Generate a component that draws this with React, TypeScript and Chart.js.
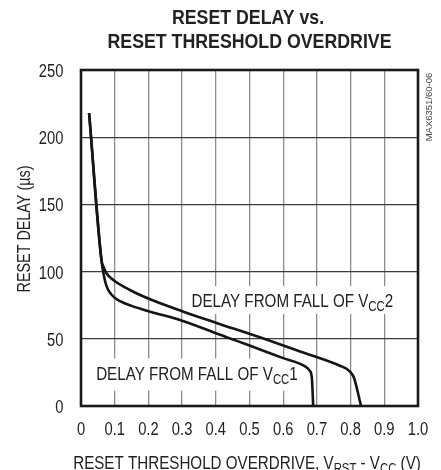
import React, { useEffect, useRef } from "react";
import { Chart, registerables } from "chart.js";

Chart.register(...registerables);

// ---- data ----
const vcc1X = [0.024, 0.061, 0.068, 0.076, 0.09, 0.116, 0.15, 0.205, 0.3, 0.43, 0.5, 0.6, 0.665, 0.678, 0.685, 0.689];
const vcc1Y = [218, 108, 97, 89, 83, 78, 74.5, 70.2, 63.5, 51.4, 45, 35.6, 29.5, 26.5, 21, 0];
const vcc2X = [0.024, 0.061, 0.066, 0.075, 0.096, 0.145, 0.205, 0.304, 0.4, 0.531, 0.65, 0.77, 0.79, 0.8, 0.81, 0.831];
const vcc2Y = [218, 108, 104, 99, 93.7, 86.3, 79.4, 70.2, 62, 51.1, 40.6, 29.8, 27.3, 25, 21, 0];

const xTickLabels = ["0", "0.1", "0.2", "0.3", "0.4", "0.5", "0.6", "0.7", "0.8", "0.9", "1.0"];
const yTickLabels = ["0", "50", "100", "150", "200", "250"];

const titleLines = ["RESET DELAY vs.", "RESET THRESHOLD OVERDRIVE"];
const yAxisTitle = "RESET DELAY (µs)";
const xAxisTitle = [
  { t: "RESET THRESHOLD OVERDRIVE, V" },
  { t: "RST", sub: true },
  { t: " - V" },
  { t: "CC", sub: true },
  { t: " (V)" },
];
const label1 = [{ t: "DELAY FROM FALL OF V" }, { t: "CC", sub: true }, { t: "1" }];
const label2 = [{ t: "DELAY FROM FALL OF V" }, { t: "CC", sub: true }, { t: "2" }];
const noteText = "MAX6351/60-06";

const FONT = "'Liberation Sans', Arial, sans-serif";
const NARROW = 0.82;
const TEXT = "#222";

type Seg = { t: string; sub?: boolean };

function fontStr(size: number, bold: boolean) {
  return `${bold ? "bold " : ""}${size}px ${FONT}`;
}

function richWidth(ctx: CanvasRenderingContext2D, segs: Seg[], size: number, bold: boolean) {
  let w = 0;
  for (const s of segs) {
    ctx.font = fontStr(s.sub ? size * 0.75 : size, bold);
    w += ctx.measureText(s.t).width;
  }
  return w;
}

// draws rich text; x is the anchor in unscaled coordinates, baseline y
function drawRich(
  ctx: CanvasRenderingContext2D,
  segs: Seg[],
  x: number,
  y: number,
  size: number,
  bold: boolean,
  sx: number,
  align: "left" | "center" | "right"
) {
  ctx.save();
  ctx.textBaseline = "alphabetic";
  ctx.textAlign = "left";
  ctx.fillStyle = TEXT;
  const w = richWidth(ctx, segs, size, bold) * sx;
  let start = x;
  if (align === "center") start = x - w / 2;
  if (align === "right") start = x - w;
  ctx.translate(start, y);
  ctx.scale(sx, 1);
  let cx = 0;
  for (const s of segs) {
    const sz = s.sub ? size * 0.75 : size;
    ctx.font = fontStr(sz, bold);
    ctx.fillText(s.t, cx, s.sub ? size * 0.22 : 0);
    cx += ctx.measureText(s.t).width;
  }
  ctx.restore();
}

const decorPlugin = {
  id: "decor",
  beforeDatasetsDraw(chart: any) {
    const { ctx, scales } = chart;
    const xs = scales.x;
    const ys = scales.y;
    ctx.save();
    ctx.fillStyle = "#fff";
    // white boxes behind the in-plot labels
    ctx.fillRect(xs.getPixelForValue(0.033), ys.getPixelForValue(35.3), 212, 32);
    ctx.fillRect(xs.getPixelForValue(0.318), ys.getPixelForValue(89.3), 213, 28);
    ctx.restore();
  },
  afterDatasetsDraw(chart: any) {
    const { ctx, chartArea, scales } = chart;
    const xs = scales.x;
    const ys = scales.y;
    // frame
    ctx.save();
    ctx.strokeStyle = "#1a1a1a";
    ctx.lineWidth = 2.6;
    ctx.strokeRect(chartArea.left, chartArea.top, chartArea.right - chartArea.left, chartArea.bottom - chartArea.top);
    ctx.restore();

    // in-plot labels
    drawRich(ctx, label1, xs.getPixelForValue(0.045), ys.getPixelForValue(19.5), 18.5, false, NARROW, "left");
    drawRich(ctx, label2, xs.getPixelForValue(0.328), ys.getPixelForValue(73.5), 18.5, false, NARROW, "left");

    // title
    const cxTitle = (chartArea.left + chartArea.right) / 2;
    drawRich(ctx, [{ t: titleLines[0] }], cxTitle - 1.5, 24, 21, true, 0.845, "center");
    drawRich(ctx, [{ t: titleLines[1] }], cxTitle, 48, 21, true, 0.845, "center");

    // x ticks
    for (const lab of xTickLabels) {
      const px = xs.getPixelForValue(parseFloat(lab));
      drawRich(ctx, [{ t: lab }], px, 435, 18, false, NARROW, "center");
    }
    // y ticks
    for (const lab of yTickLabels) {
      const py = ys.getPixelForValue(parseFloat(lab));
      drawRich(ctx, [{ t: lab }], 63.5, py + 7, 18, false, NARROW, "right");
    }

    // x axis title
    drawRich(ctx, xAxisTitle, 247, 468.5, 18.5, false, NARROW, "center");

    // y axis title (rotated)
    ctx.save();
    ctx.translate(29.5, 229);
    ctx.rotate(-Math.PI / 2);
    drawRich(ctx, [{ t: yAxisTitle }], 0, 0, 17.5, false, NARROW, "center");
    ctx.restore();

    // side note
    ctx.save();
    ctx.translate(431.5, 107);
    ctx.rotate(-Math.PI / 2);
    ctx.fillStyle = "#444";
    ctx.font = `9.5px ${FONT}`;
    ctx.textAlign = "center";
    ctx.textBaseline = "alphabetic";
    ctx.fillText(noteText, 0, 0);
    ctx.restore();
  },
};

export default function App() {
  const ref = useRef<HTMLCanvasElement | null>(null);

  useEffect(() => {
    if (!ref.current) return;
    const toPts = (xs: number[], ys: number[]) => xs.map((x, i) => ({ x, y: ys[i] }));
    const chart = new Chart(ref.current, {
      type: "line",
      data: {
        datasets: [
          {
            label: "VCC1",
            data: toPts(vcc1X, vcc1Y),
            borderColor: "#151515",
            borderWidth: 2.6,
            pointRadius: 0,
            cubicInterpolationMode: "monotone",
            fill: false,
          },
          {
            label: "VCC2",
            data: toPts(vcc2X, vcc2Y),
            borderColor: "#151515",
            borderWidth: 2.6,
            pointRadius: 0,
            cubicInterpolationMode: "monotone",
            fill: false,
          },
        ],
      },
      options: {
        animation: false,
        responsive: false,
        devicePixelRatio: 1,
        layout: { padding: { top: 70, right: 23, left: 0, bottom: 0 } },
        plugins: { legend: { display: false }, tooltip: { enabled: false }, title: { display: false } },
        scales: {
          x: {
            type: "linear",
            min: 0,
            max: 1,
            ticks: { stepSize: 0.1, display: false },
            border: { display: false },
            grid: { color: "#8c8c8c", lineWidth: 1.3, drawTicks: false },
            afterFit: (s: any) => {
              s.height = 64;
            },
          },
          y: {
            type: "linear",
            min: 0,
            max: 250,
            ticks: { stepSize: 50, display: false },
            border: { display: false },
            grid: { color: "#3c3c3c", lineWidth: 1.3, drawTicks: false },
            afterFit: (s: any) => {
              s.width = 81;
            },
          },
        },
      },
      plugins: [decorPlugin],
    });
    return () => chart.destroy();
  }, []);

  return (
    <div style={{ position: "absolute", left: 0, top: 0, width: 441, height: 470, background: "#fff" }}>
      <canvas ref={ref} width={441} height={470} style={{ width: 441, height: 470, display: "block" }} />
    </div>
  );
}
